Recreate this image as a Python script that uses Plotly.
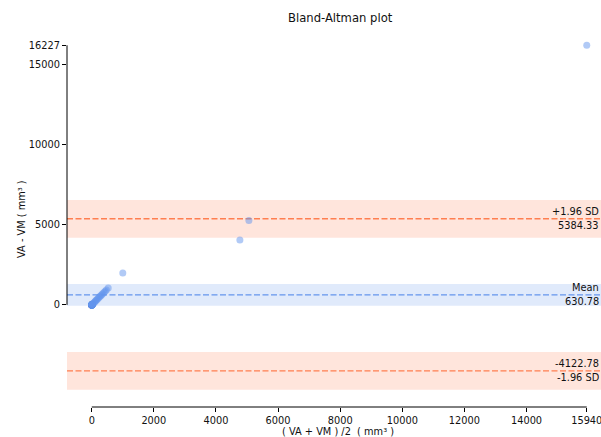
import plotly.graph_objects as go

# ---- data ----
means = [0, 0, 0, 0, 0, 0, 0, 0, 0, 0, 0, 0, 0, 0, 0, 0,
         2, 3, 4, 5, 5, 6, 7, 8, 9, 10, 10, 12, 13, 14, 15, 18,
         25, 45, 70, 95, 120, 145, 170, 200, 230, 260, 290, 320, 350, 390, 430, 470, 530,
         1000, 4770, 5060, 15940]
diffs = [0, 0, 0, 0, 0, 0, 0, 0, 0, 0, 0, 0, 0, 0, 0, 0,
         4, 6, 8, 10, 10, 12, 14, 16, 18, 20, 20, 24, 26, 28, 30, 36,
         50, 90, 140, 190, 240, 290, 340, 400, 460, 520, 580, 640, 700, 780, 860, 940, 1060,
         2000, 4060, 5270, 16227]

mean_diff = 630.78
upper_loa = 5384.33
lower_loa = -4122.78
mean_ci = 680.0
loa_ci = 1180.0

x_ticks = [0, 2000, 4000, 6000, 8000, 10000, 12000, 14000, 15940]
x_ticklabels = ["0", "2000", "4000", "6000", "8000", "10000", "12000", "14000", "15940"]
y_ticks = [0, 5000, 10000, 15000, 16227]
y_ticklabels = ["0", "5000", "10000", "15000", "16227"]

# ---- styling ----
W, H = 601, 437
L, R, T, B = 67, 0, 28, 30
pw, ph = W - L - R, H - T - B
FONT = "DejaVu Sans"
BLUE = "#6495ED"
CORAL = "#FF7F50"

fig = go.Figure()
fig.add_trace(go.Scatter(
    x=means, y=diffs, mode="markers", cliponaxis=False,
    marker=dict(size=7, color="rgba(100,149,237,0.5)", line=dict(width=0)),
    hoverinfo="x+y", showlegend=False))

shapes = []
# bands
for center, half, col in [(mean_diff, mean_ci, "rgba(100,149,237,0.2)"),
                          (upper_loa, loa_ci, "rgba(255,127,80,0.2)"),
                          (lower_loa, loa_ci, "rgba(255,127,80,0.2)")]:
    shapes.append(dict(type="rect", xref="paper", yref="y", x0=0, x1=1,
                       y0=center - half, y1=center + half, fillcolor=col,
                       line=dict(width=0), layer="below"))
# lines
for val, col in [(mean_diff, BLUE), (upper_loa, CORAL), (lower_loa, CORAL)]:
    shapes.append(dict(type="line", xref="paper", yref="y", x0=0, x1=1,
                       y0=val, y1=val, line=dict(color=col, width=1.3, dash="6px,2.5px"),
                       layer="below"))
# trimmed spines
shapes.append(dict(type="line", xref="paper", yref="y", x0=0, x1=0,
                   y0=min(y_ticks), y1=max(y_ticks), line=dict(color="black", width=1)))
shapes.append(dict(type="line", xref="x", yref="paper", x0=min(x_ticks), x1=max(x_ticks),
                   y0=0, y1=0, line=dict(color="black", width=1)))

def px_to_paper_x(px):
    return (px - L) / pw

def px_to_paper_y(py):
    return (H - B - py) / ph

tf = dict(family=FONT, size=9.8, color="#111111")
annotations = []
for val, above, below in [(upper_loa, "+1.96 SD", "%.2f" % upper_loa),
                          (mean_diff, "Mean", "%.2f" % mean_diff),
                          (lower_loa, "%.2f" % lower_loa, "-1.96 SD")]:
    annotations.append(dict(x=px_to_paper_x(601), xref="paper", y=val, yref="y",
                            text=above, showarrow=False, xanchor="right", yanchor="middle",
                            yshift=7.5, font=tf))
    annotations.append(dict(x=px_to_paper_x(601), xref="paper", y=val, yref="y",
                            text=below, showarrow=False, xanchor="right", yanchor="middle",
                            yshift=-6.5, font=tf))

annotations.append(dict(x=px_to_paper_x(340), y=px_to_paper_y(18), xref="paper", yref="paper",
                        text="Bland-Altman plot", showarrow=False, xanchor="center",
                        yanchor="middle", font=dict(family=FONT, size=11.6, color="#111111")))
annotations.append(dict(x=px_to_paper_x(338), y=px_to_paper_y(431), xref="paper", yref="paper",
                        text="( VA + VM ) /2  ( mm³ )", showarrow=False, xanchor="center",
                        yanchor="middle", font=tf, borderpad=0))
annotations.append(dict(x=px_to_paper_x(21), y=px_to_paper_y(219), xref="paper", yref="paper",
                        text="VA - VM ( mm³ )", showarrow=False, xanchor="center",
                        yanchor="middle", textangle=-90, font=tf))

x_left = -797
x_scale = 495.0 / 15940
x_right = x_left + pw / x_scale
y_scale = 80.0 / 5000
y_bottom = -6380
y_top = y_bottom + ph / y_scale

fig.update_layout(
    width=W, height=H,
    margin=dict(l=L, r=R, t=T, b=B, pad=0, autoexpand=False),
    paper_bgcolor="white", plot_bgcolor="white",
    shapes=shapes, annotations=annotations,
    font=dict(family=FONT, size=9.8, color="#111111"),
    xaxis=dict(range=[x_left, x_right], tickmode="array", tickvals=x_ticks,
               ticktext=x_ticklabels, ticks="outside", ticklen=4, tickwidth=1,
               tickcolor="black", showgrid=False, zeroline=False, showline=False,
               tickfont=tf, automargin=False, ticklabeloverflow="allow"),
    yaxis=dict(range=[y_bottom, y_top], tickmode="array", tickvals=y_ticks,
               ticktext=y_ticklabels, ticks="outside", ticklen=4, tickwidth=1,
               tickcolor="black", showgrid=False, zeroline=False, showline=False,
               tickfont=tf, automargin=False, ticklabeloverflow="allow"),
)

fig.write_html(
    "out.html",
    config={"displayModeBar": False},
    post_script="document.body.style.margin='0px';document.body.style.overflow='hidden';",
)
